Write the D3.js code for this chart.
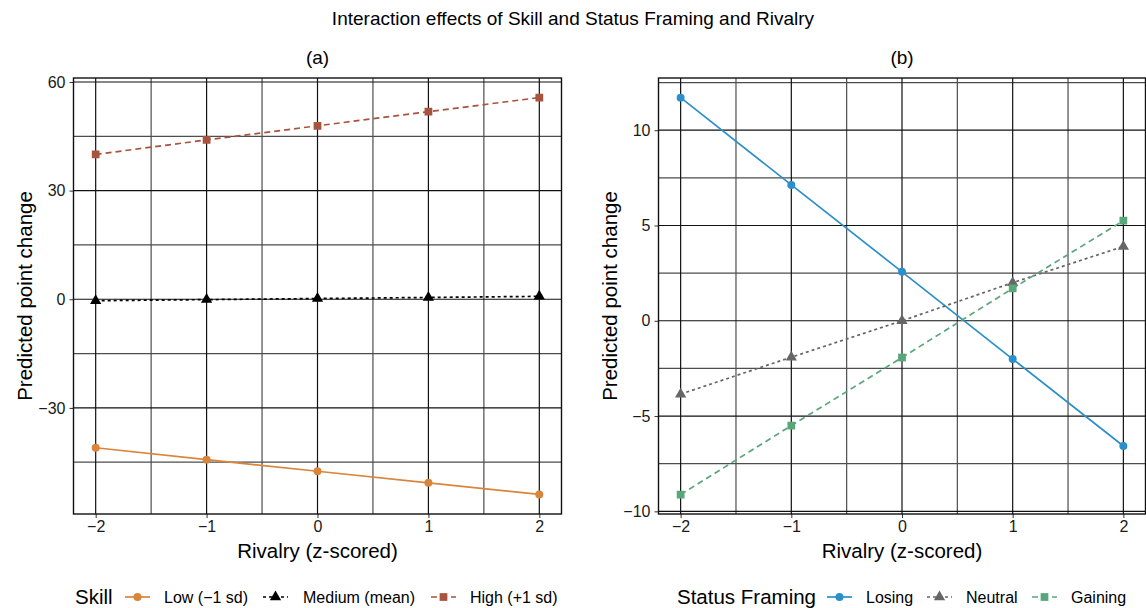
<!DOCTYPE html>
<html>
<head>
<meta charset="utf-8">
<script src="https://cdn.jsdelivr.net/npm/d3@7"></script>
<style>
  body { margin: 0; background: #fff; }
  svg { display: block; font-family: "Liberation Sans", Arial, sans-serif; }
</style>
</head>
<body>
<div id="chart"></div>
<script>
const rivalry = [-2, -1, 0, 1, 2];

// panel (a): Skill
const skillLevels = ["Low (\u22121 sd)", "Medium (mean)", "High (+1 sd)"];
const skillLow = [-41.0, -44.3, -47.5, -50.7, -53.9];
const skillMedium = [-0.4, -0.1, 0.2, 0.5, 0.8];
const skillHigh = [40.0, 44.0, 47.9, 51.8, 55.7];
const skillTicks = [-30, 0, 30, 60];
const skillMinor = [-45, -15, 15, 45];

// panel (b): Status Framing
const framingLevels = ["Losing", "Neutral", "Gaining"];
const framingLosing = [11.71, 7.13, 2.57, -2.01, -6.57];
const framingNeutral = [-3.85, -1.91, 0.0, 2.0, 3.9];
const framingGaining = [-9.12, -5.5, -1.93, 1.7, 5.25];
const framingTicks = [-10, -5, 0, 5, 10];
const framingMinor = [-7.5, -2.5, 2.5, 7.5, 12.5];

const xTicks = [-2, -1, 0, 1, 2];
const xMinor = [-1.5, -0.5, 0.5, 1.5];

const W = 1146, H = 608;
const svg = d3.select("#chart").append("svg")
  .attr("width", W).attr("height", H)
  .attr("viewBox", `0 0 ${W} ${H}`);

svg.append("text")
  .attr("x", 573).attr("y", 25)
  .attr("text-anchor", "middle")
  .attr("font-size", 19)
  .text("Interaction effects of Skill and Status Framing and Rivalry");

const minus = d => d < 0 ? "\u2212" + Math.abs(d) : d;

function panel(opts) {
  const { left, right, top, bottom, yDomain, yTicks, yMinor, series, label, legendTitle, legendX, legendItems } = opts;
  const x = d3.scaleLinear().domain([-2.2, 2.2]).range([left, right]);
  const y = d3.scaleLinear().domain(yDomain).range([bottom, top]);
  const g = svg.append("g");

  svg.append("text")
    .attr("x", (left + right) / 2).attr("y", 64)
    .attr("text-anchor", "middle")
    .attr("font-size", 19)
    .text(label);

  const clip = "clip" + label.replace(/\W/g, "");
  svg.append("clipPath").attr("id", clip)
    .append("rect").attr("x", left).attr("y", top)
    .attr("width", right - left).attr("height", bottom - top);

  const grid = g.append("g").attr("clip-path", `url(#${clip})`);
  grid.selectAll("line.ymin").data(yMinor).join("line")
    .attr("x1", left).attr("x2", right)
    .attr("y1", d => y(d)).attr("y2", d => y(d))
    .attr("stroke", "#4d4d4d").attr("stroke-width", 1.2);
  grid.selectAll("line.xmin").data(xMinor).join("line")
    .attr("y1", top).attr("y2", bottom)
    .attr("x1", d => x(d)).attr("x2", d => x(d))
    .attr("stroke", "#4d4d4d").attr("stroke-width", 1.2);
  grid.selectAll("line.ymaj").data(yTicks).join("line")
    .attr("x1", left).attr("x2", right)
    .attr("y1", d => y(d)).attr("y2", d => y(d))
    .attr("stroke", "#111").attr("stroke-width", 1.2);
  grid.selectAll("line.xmaj").data(xTicks).join("line")
    .attr("y1", top).attr("y2", bottom)
    .attr("x1", d => x(d)).attr("x2", d => x(d))
    .attr("stroke", "#111").attr("stroke-width", 1.2);

  // axes
  const ya = g.append("g").attr("transform", `translate(${left},0)`)
    .call(d3.axisLeft(y).tickValues(yTicks).tickSize(4).tickPadding(4).tickFormat(minus));
  const xa = g.append("g").attr("transform", `translate(0,${bottom})`)
    .call(d3.axisBottom(x).tickValues(xTicks).tickSize(4).tickPadding(3).tickFormat(minus));
  [ya, xa].forEach(a => {
    a.select(".domain").remove();
    a.selectAll("text").attr("font-size", 16).attr("fill", "#1a1a1a")
      .attr("font-family", "Liberation Sans, Arial, sans-serif");
    a.selectAll("line").attr("stroke", "#333");
  });

  const pts = g.append("g").attr("clip-path", `url(#${clip})`);
  const line = d3.line().x((d, i) => x(rivalry[i])).y(d => y(d));
  series.forEach(s => {
    pts.append("path").datum(s.values)
      .attr("d", line).attr("fill", "none")
      .attr("stroke", s.color).attr("stroke-width", 1.7)
      .attr("stroke-dasharray", s.dash);
    pts.selectAll(null).data(s.values).join("path")
      .attr("transform", (d, i) => `translate(${x(rivalry[i])},${y(d)})`)
      .attr("d", d3.symbol().type(s.shape).size(s.size))
      .attr("fill", s.color);
  });

  g.append("rect")
    .attr("x", left).attr("y", top)
    .attr("width", right - left).attr("height", bottom - top)
    .attr("fill", "none").attr("stroke", "#111").attr("stroke-width", 1.4);

  svg.append("text")
    .attr("transform", `translate(${left - 42},${(top + bottom) / 2}) rotate(-90)`)
    .attr("text-anchor", "middle").attr("font-size", 20.5)
    .text("Predicted point change");
  svg.append("text")
    .attr("x", (left + right) / 2).attr("y", 558)
    .attr("text-anchor", "middle").attr("font-size", 20.5)
    .text("Rivalry (z-scored)");

  // legend
  const lg = svg.append("g").attr("transform", `translate(${legendX},597)`);
  lg.append("text").attr("x", 0).attr("y", 7).attr("font-size", 20.5)
    .text(legendTitle);
  legendItems.forEach((it, i) => {
    const s = series[i];
    const kx = it.key;
    lg.append("line").attr("x1", kx).attr("x2", kx + 25)
      .attr("y1", 0).attr("y2", 0)
      .attr("stroke", s.color).attr("stroke-width", 1.7)
      .attr("stroke-dasharray", s.dash);
    lg.append("path").attr("transform", `translate(${kx + 12.5},0)`)
      .attr("d", d3.symbol().type(s.shape).size(s.size)).attr("fill", s.color);
    lg.append("text").attr("x", it.text).attr("y", 6).attr("font-size", 16)
      .text(it.name);
  });
}

panel({
  left: 73.5, right: 561.5, top: 78, bottom: 514,
  yDomain: [-59.3, 61.1], yTicks: skillTicks, yMinor: skillMinor,
  label: "(a)",
  series: [
    { values: skillLow, color: "#d9853b", dash: null, shape: d3.symbolCircle, size: 50 },
    { values: skillMedium, color: "#000000", dash: "3,3", shape: d3.symbolTriangle, size: 55 },
    { values: skillHigh, color: "#a8533e", dash: "6,4", shape: d3.symbolSquare, size: 60 }
  ],
  legendTitle: "Skill", legendX: 75,
  legendItems: [
    { name: skillLevels[0], key: 50, text: 89 },
    { name: skillLevels[1], key: 188, text: 228 },
    { name: skillLevels[2], key: 356, text: 395 }
  ]
});

panel({
  left: 658.5, right: 1145.5, top: 78, bottom: 514,
  yDomain: [-10.14, 12.74], yTicks: framingTicks, yMinor: framingMinor,
  label: "(b)",
  series: [
    { values: framingLosing, color: "#2b8fcb", dash: null, shape: d3.symbolCircle, size: 50 },
    { values: framingNeutral, color: "#666666", dash: "3,3", shape: d3.symbolTriangle, size: 55 },
    { values: framingGaining, color: "#5aa67b", dash: "6,4", shape: d3.symbolSquare, size: 60 }
  ],
  legendTitle: "Status Framing", legendX: 677,
  legendItems: [
    { name: framingLevels[0], key: 150, text: 189 },
    { name: framingLevels[1], key: 250, text: 289 },
    { name: framingLevels[2], key: 355, text: 394 }
  ]
});
</script>
</body>
</html>
